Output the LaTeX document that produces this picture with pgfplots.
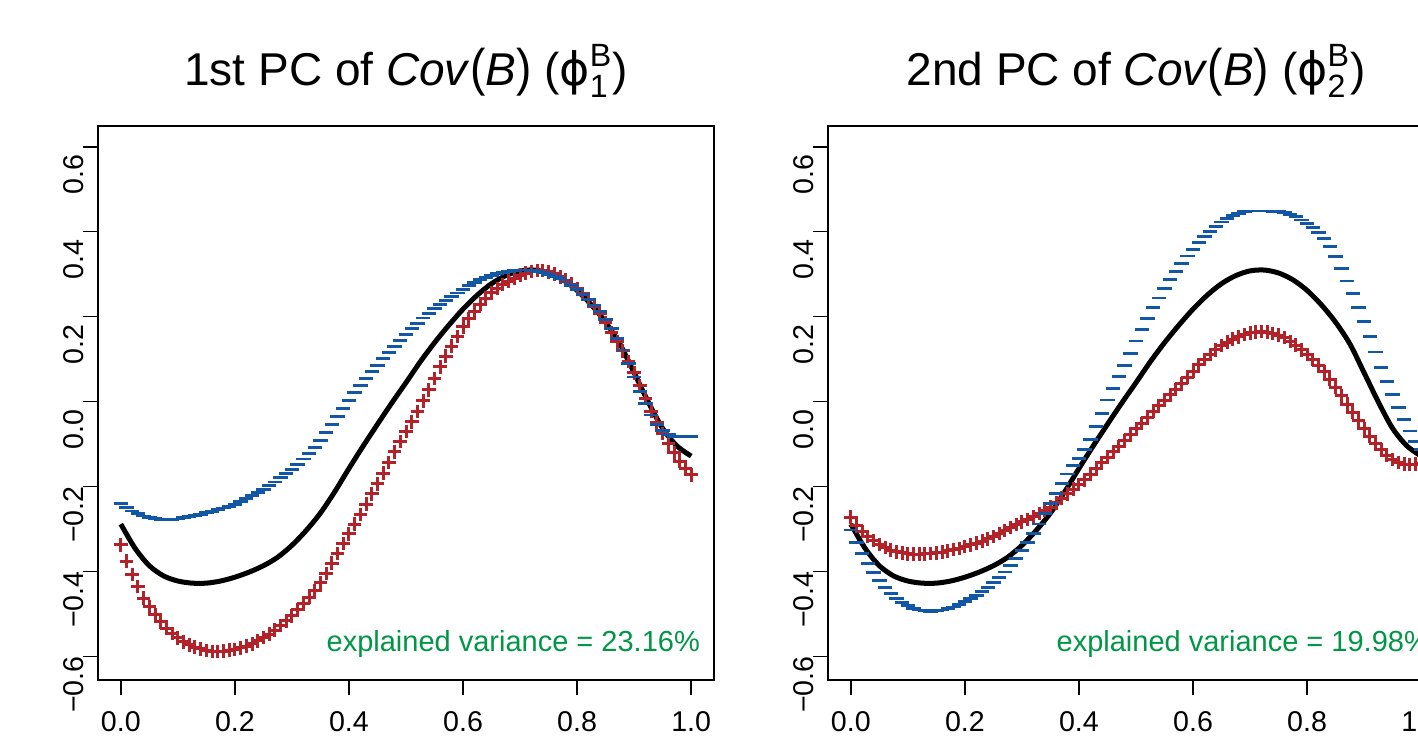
\documentclass[border=0pt]{standalone}
\usepackage{fontspec}
\setmainfont{Liberation Sans}
\newfontfamily\greekfont{DejaVu Sans}
\usepackage{amsmath}
\usepackage{graphicx}
\usepackage{pgfplots}
\pgfplotsset{compat=1.18}
\usepackage{pgfplotstable}

\definecolor{pcblue}{RGB}{18,86,166}
\definecolor{pcred}{RGB}{178,34,40}
\definecolor{pcgreen}{RGB}{0,150,70}

% mean +/- PC curves (x step 0.01)
\pgfplotstableread{
x b1 r1 b2 r2
0.00 -0.239 -0.337 -0.302 -0.272
0.01 -0.249 -0.375 -0.332 -0.291
0.02 -0.257 -0.407 -0.358 -0.305
0.03 -0.264 -0.435 -0.381 -0.317
0.04 -0.269 -0.462 -0.402 -0.327
0.05 -0.273 -0.483 -0.421 -0.336
0.06 -0.275 -0.501 -0.438 -0.343
0.07 -0.277 -0.518 -0.452 -0.349
0.08 -0.278 -0.533 -0.463 -0.353
0.09 -0.278 -0.546 -0.472 -0.356
0.10 -0.276 -0.556 -0.480 -0.358
0.11 -0.273 -0.565 -0.486 -0.359
0.12 -0.270 -0.572 -0.490 -0.359
0.13 -0.268 -0.578 -0.492 -0.358
0.14 -0.265 -0.582 -0.493 -0.357
0.15 -0.261 -0.586 -0.492 -0.356
0.16 -0.258 -0.588 -0.490 -0.354
0.17 -0.254 -0.588 -0.487 -0.351
0.18 -0.250 -0.587 -0.483 -0.348
0.19 -0.246 -0.585 -0.477 -0.345
0.20 -0.241 -0.583 -0.471 -0.341
0.21 -0.235 -0.579 -0.464 -0.337
0.22 -0.228 -0.575 -0.456 -0.333
0.23 -0.221 -0.570 -0.447 -0.328
0.24 -0.214 -0.563 -0.437 -0.323
0.25 -0.206 -0.555 -0.426 -0.317
0.26 -0.198 -0.547 -0.414 -0.310
0.27 -0.189 -0.538 -0.401 -0.303
0.28 -0.179 -0.527 -0.386 -0.296
0.29 -0.169 -0.516 -0.369 -0.289
0.30 -0.159 -0.504 -0.350 -0.283
0.31 -0.147 -0.490 -0.331 -0.277
0.32 -0.135 -0.476 -0.310 -0.270
0.33 -0.122 -0.461 -0.288 -0.263
0.34 -0.107 -0.444 -0.264 -0.256
0.35 -0.091 -0.426 -0.240 -0.248
0.36 -0.073 -0.404 -0.216 -0.238
0.37 -0.054 -0.380 -0.193 -0.227
0.38 -0.035 -0.357 -0.170 -0.217
0.39 -0.016 -0.334 -0.151 -0.206
0.40 0.003 -0.311 -0.133 -0.195
0.41 0.021 -0.288 -0.112 -0.184
0.42 0.039 -0.265 -0.088 -0.171
0.43 0.055 -0.241 -0.058 -0.158
0.44 0.071 -0.217 -0.027 -0.144
0.45 0.086 -0.193 0.004 -0.131
0.46 0.101 -0.168 0.032 -0.118
0.47 0.115 -0.143 0.059 -0.105
0.48 0.130 -0.118 0.086 -0.091
0.49 0.145 -0.094 0.114 -0.078
0.50 0.159 -0.070 0.143 -0.064
0.51 0.172 -0.047 0.170 -0.051
0.52 0.185 -0.023 0.196 -0.037
0.53 0.197 0.002 0.221 -0.023
0.54 0.208 0.028 0.244 -0.010
0.55 0.219 0.055 0.266 0.003
0.56 0.229 0.082 0.287 0.016
0.57 0.238 0.107 0.306 0.029
0.58 0.247 0.131 0.325 0.043
0.59 0.256 0.154 0.343 0.057
0.60 0.265 0.176 0.359 0.072
0.61 0.273 0.196 0.374 0.087
0.62 0.280 0.213 0.388 0.099
0.63 0.287 0.229 0.401 0.111
0.64 0.293 0.244 0.413 0.122
0.65 0.297 0.256 0.423 0.132
0.66 0.301 0.267 0.432 0.140
0.67 0.304 0.276 0.439 0.147
0.68 0.307 0.284 0.444 0.153
0.69 0.309 0.291 0.447 0.158
0.70 0.310 0.298 0.449 0.162
0.71 0.310 0.303 0.449 0.164
0.72 0.309 0.307 0.449 0.165
0.73 0.307 0.309 0.449 0.164
0.74 0.304 0.309 0.448 0.161
0.75 0.300 0.306 0.447 0.157
0.76 0.295 0.301 0.445 0.151
0.77 0.290 0.294 0.441 0.142
0.78 0.282 0.286 0.436 0.133
0.79 0.273 0.277 0.428 0.122
0.80 0.264 0.267 0.419 0.111
0.81 0.252 0.254 0.410 0.099
0.82 0.240 0.240 0.398 0.085
0.83 0.227 0.225 0.384 0.070
0.84 0.212 0.208 0.365 0.053
0.85 0.193 0.186 0.341 0.034
0.86 0.172 0.163 0.313 0.014
0.87 0.149 0.141 0.284 -0.006
0.88 0.122 0.120 0.254 -0.025
0.89 0.090 0.095 0.222 -0.043
0.90 0.058 0.068 0.189 -0.063
0.91 0.025 0.038 0.153 -0.081
0.92 -0.005 0.008 0.117 -0.098
0.93 -0.031 -0.022 0.080 -0.113
0.94 -0.053 -0.050 0.047 -0.126
0.95 -0.068 -0.075 0.017 -0.136
0.96 -0.077 -0.099 -0.013 -0.143
0.97 -0.081 -0.120 -0.042 -0.147
0.98 -0.082 -0.140 -0.069 -0.148
0.99 -0.081 -0.157 -0.093 -0.147
1.00 -0.081 -0.172 -0.113 -0.145
}\marks

% mean function (same in both panels)
\pgfplotstableread{
x m
0.000 -0.288
0.025 -0.345
0.050 -0.386
0.075 -0.410
0.100 -0.422
0.125 -0.427
0.150 -0.427
0.175 -0.422
0.200 -0.413
0.225 -0.401
0.250 -0.386
0.275 -0.366
0.300 -0.338
0.325 -0.303
0.350 -0.262
0.375 -0.212
0.400 -0.157
0.425 -0.104
0.450 -0.053
0.475 -0.003
0.500 0.045
0.525 0.094
0.550 0.139
0.575 0.180
0.600 0.218
0.625 0.251
0.650 0.278
0.675 0.297
0.700 0.308
0.725 0.310
0.750 0.303
0.775 0.287
0.800 0.262
0.825 0.228
0.850 0.187
0.875 0.136
0.900 0.068
0.925 -0.001
0.950 -0.063
0.975 -0.104
1.000 -0.128
}\meancurve

\pgfplotsset{
  pcaxis/.style={
    scale only axis, width=308pt, height=277pt, anchor=south west,
    xmin=-0.04, xmax=1.04, ymin=-0.655, ymax=0.649,
    axis line style={line width=0.8pt},
    tick pos=left,
    tick align=outside, major tick length=7.5pt,
    tick style={black, line width=0.7pt},
    xtick={0,0.2,0.4,0.6,0.8,1},
    xticklabels={0.0,0.2,0.4,0.6,0.8,1.0},
    ytick={-0.6,-0.4,-0.2,0,0.2,0.4,0.6},
    yticklabels={−0.6,−0.4,−0.2,0.0,0.2,0.4,0.6},
    ticklabel style={font=\fontsize{14.3}{17}\selectfont},
    xticklabel style={anchor=base, inner sep=0pt, yshift=-18pt},
    yticklabel style={rotate=90, anchor=base, inner sep=0pt, xshift=-14pt},
    title style={font=\fontsize{23}{28}\selectfont, anchor=base, at={(0.5,1)}, yshift=14.5pt},
  },
  meanline/.style={black, line width=2.5pt, smooth},
  plusmarks/.style={only marks, pcred, mark=+, mark size=3.4pt, mark options={line width=1.5pt}},
  dashmarks/.style={only marks, pcblue, mark=-, mark size=3.6pt, mark options={line width=1.4pt}},
}
\tikzset{vartext/.style={anchor=base east, inner sep=0pt, text=pcgreen, font=\fontsize{14.5}{17}\selectfont}}

\newcommand{\bp}[1]{\scalebox{1}[1.12]{#1}}

\begin{document}
\begin{tikzpicture}
\path[use as bounding box, clip] (0,0) rectangle (709pt,370pt);

\begin{axis}[pcaxis, at={(49pt,30pt)},
  title={1st PC of \textit{Cov}\bp{(}\textit{B}\bp{)} ({\greekfont ϕ}$^{\text{B}}_{\text{1}}$)}]
\addplot[meanline] table[x=x, y=m] {\meancurve};
\addplot[plusmarks] table[x=x, y=r1] {\marks};
\addplot[dashmarks] table[x=x, y=b1] {\marks};
\node[vartext] at (axis cs:1.016,-0.589) {explained variance = 23.16\%};
\end{axis}

\begin{axis}[pcaxis, at={(414pt,30pt)},
  title={2nd PC of \textit{Cov}\bp{(}\textit{B}\bp{)} ({\greekfont ϕ}$^{\text{B}}_{\text{2}}$)}]
\addplot[meanline] table[x=x, y=m] {\meancurve};
\addplot[plusmarks] table[x=x, y=r2] {\marks};
\addplot[dashmarks] table[x=x, y=b2] {\marks};
\node[vartext] at (axis cs:1.016,-0.589) {explained variance = 19.98\%};
\end{axis}
\end{tikzpicture}
\end{document}
